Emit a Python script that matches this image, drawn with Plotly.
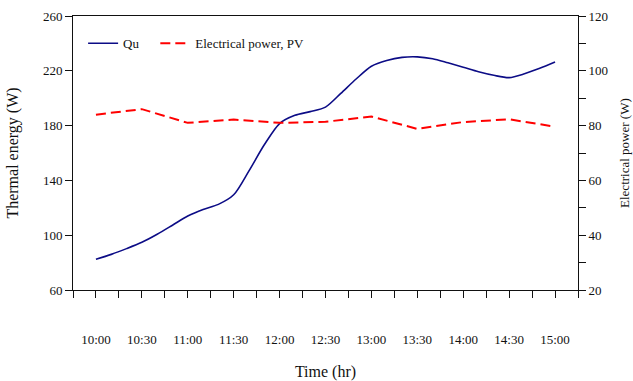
import plotly.graph_objects as go

# Time of day in minutes after midnight
qu_minutes = list(range(600, 901, 10))
qu_values = [82.4, 86.0, 90.2, 94.8, 100.7, 107.3, 114.0, 118.8, 122.5, 129.5,
             147.0, 166.0, 181.5, 187.5, 190.2, 193.5, 203.5, 214.0, 223.3, 227.5,
             229.8, 230.2, 228.8, 225.8, 222.6, 219.3, 216.7, 215.0, 217.8, 221.8,
             226.4]

pv_minutes = list(range(600, 901, 30))
pv_values = [84.0, 86.0, 81.0, 82.2, 81.0, 81.4, 83.3, 78.8, 81.3, 82.3, 79.6]

tick_minutes = list(range(585, 916, 15))
tick_labels = [f"{m // 60}:{m % 60:02d}" if (m % 30 == 0 and 600 <= m <= 900) else ""
               for m in tick_minutes]

FONT = "Liberation Serif, Times New Roman, serif"

fig = go.Figure()
fig.add_trace(go.Scatter(
    x=qu_minutes, y=qu_values, name="Qu", mode="lines",
    line=dict(color="#0c0c86", width=1.6, shape="spline", smoothing=0.8),
    yaxis="y", legend="legend",
))
fig.add_trace(go.Scatter(
    x=pv_minutes, y=pv_values, name="Electrical power, PV", mode="lines",
    line=dict(color="#ff0000", width=2, dash="10px,5px"),
    yaxis="y2", legend="legend2",
))

legend_style = dict(orientation="h", y=0.955, xanchor="left", yanchor="top",
                    bgcolor="rgba(0,0,0,0)", font=dict(size=13), itemwidth=30)

fig.update_layout(
    width=633, height=381,
    margin=dict(l=73, r=55, t=16, b=91),
    paper_bgcolor="white", plot_bgcolor="white",
    font=dict(family=FONT, size=13, color="#111111"),
    showlegend=True,
    legend=dict(x=0.02, **legend_style),
    legend2=dict(x=0.163, **legend_style),
    xaxis=dict(
        range=[585, 915], tickmode="array", tickvals=tick_minutes, ticktext=tick_labels,
        ticks="outside", ticklen=7, tickcolor="#111111", tickwidth=1,
        showline=True, linecolor="#111111", linewidth=1, mirror=True,
        showgrid=False, zeroline=False, ticklabelstandoff=30, automargin=False,
        title=dict(text="Time (hr)", standoff=21),
    ),
    yaxis=dict(
        range=[60, 260], tickmode="linear", tick0=60, dtick=40,
        ticks="outside", ticklen=7, tickcolor="#111111",
        showline=True, linecolor="#111111", linewidth=1,
        showgrid=False, zeroline=False, automargin=False,
        title=dict(text="Thermal energy (W)", standoff=20),
    ),
    yaxis2=dict(
        range=[20, 120], tickmode="linear", tick0=20, dtick=20,
        overlaying="y", side="right", automargin=False,
        ticks="outside", ticklen=7, tickcolor="#111111",
        minor=dict(dtick=10, ticks="outside", ticklen=7, tickcolor="#111111"),
        showline=True, linecolor="#111111", linewidth=1,
        showgrid=False, zeroline=False,
    ),
    annotations=[dict(
        text="Electrical power (W)", textangle=-90, showarrow=False,
        xref="paper", yref="paper", x=1.091, y=0.5,
        xanchor="center", yanchor="middle", font=dict(size=13),
    )],
)

fig.write_html("out.html")
